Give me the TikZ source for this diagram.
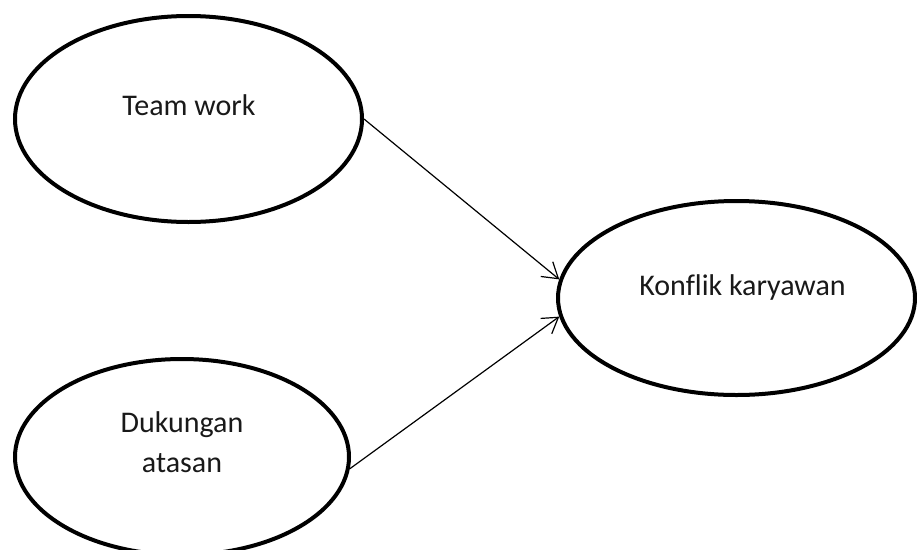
\documentclass[tikz,border=0pt]{standalone}
\usepackage{fontspec}
\setmainfont[Ligatures=CommonOff]{Carlito}
\usetikzlibrary{shapes.geometric,arrows.meta}
\tikzset{
  oval/.style={draw=black, line width=4pt, ellipse, inner sep=0pt, fill=white},
  lbl/.style={font=\fontsize{30}{40}\selectfont, inner sep=0pt, align=center, text=black!90},
  conn/.style={line width=1.2pt, -{Straight Barb[length=15pt,width=19pt,line width=1.2pt]}}
}
\begin{document}
\begin{tikzpicture}[x=1pt,y=-1pt]
\useasboundingbox (0,0) rectangle (917,549);
\fill[white] (0,0) rectangle (917,549);
\node[oval, minimum width=347pt, minimum height=206pt] (tw) at (188.5,119) {};
\node[oval, minimum width=334pt, minimum height=196pt] (da) at (182,457) {};
\node[oval, minimum width=357pt, minimum height=194pt] (kk) at (736.5,298) {};
\node[lbl, anchor=base] (twt) at (189,115) {Team work};
\node[lbl, anchor=base] (kkt) at (742.5,295) {Konflik karyawan};
\node[lbl, anchor=north] (dat) at (182,411) {Dukungan\\atasan};
\draw[conn] (tw.east) -- (kk.174);
\draw[conn] (da.-4) -- (kk.186);
\end{tikzpicture}
\end{document}
